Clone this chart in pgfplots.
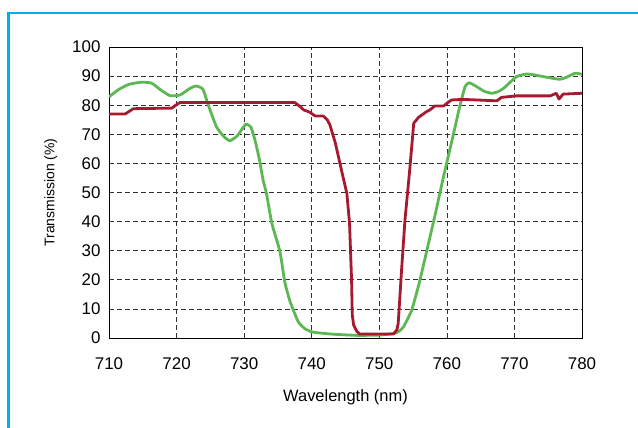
\documentclass[border=0pt]{standalone}
\usepackage{pgfplots}
\pgfplotsset{compat=1.18}
\usepackage{fontspec}
\setmainfont{Liberation Sans}
\definecolor{frameblue}{HTML}{00AEEF}
\definecolor{cgreen}{HTML}{5BB852}
\definecolor{cred}{HTML}{A6192E}
\begin{document}
\begin{tikzpicture}
\path[use as bounding box] (0,0) rectangle (638bp,428bp);
\begin{scope}
\clip (0,0) rectangle (638bp,428bp);
\draw[frameblue, line width=2.8bp] (8.8bp,-10bp) -- (8.8bp,415bp) -- (660bp,415bp);
\end{scope}
\begin{axis}[
  at={(109bp,90bp)}, anchor=south west,
  scale only axis, width=473bp, height=291bp,
  xmin=710, xmax=780, ymin=0, ymax=100,
  xtick={710,720,...,780}, ytick={0,10,...,100},
  major tick length=0pt,
  grid=major,
  grid style={black!80, line width=0.7bp, dash pattern=on 5bp off 3bp},
  axis line style={black, line width=0.8bp},
  tick label style={font=\fontsize{17}{20}\selectfont},
  xlabel style={font=\fontsize{16.5}{20}\selectfont, yshift=-13bp},
  ylabel style={font=\fontsize{14}{17}\selectfont, yshift=8bp},
  /pgf/number format/assume math mode=true,
  /pgf/number format/1000 sep={},
  xticklabel style={yshift=-16bp},
  yticklabel style={xshift=-5bp},
  xlabel={Wavelength (nm)},
  ylabel={Transmission (\%)},
]
\addplot[cgreen, line width=2.8bp, line join=round, smooth, tension=0.3] coordinates {
(710,82.9) (711.5,85.5) (713,87.2) (714.8,87.9) (716.3,87.6) (717.5,85.5) (719,83.3) (720.5,83.5) (722,85.8) (722.9,86.6) (723.9,85.5) (724.7,80) (725.9,72.6) (727,69.2) (727.9,67.8) (729,69.5) (730.2,73.4) (731,72.5) (731.6,68) (732.2,62) (732.8,54.3) (733.3,49.7) (734.1,39.4) (735.3,29.7) (736.0,19.4) (736.8,12.5) (738.0,5.6) (739,3.2) (740.2,2.0) (743.2,1.3) (746.8,0.9) (750,1.0) (752.3,1.6) (753.0,2.5) (753.6,3.9) (754.8,9.6) (755.9,18.8) (757.0,29.7) (758.2,41.7) (759.5,55.4) (761.0,70.3) (761.9,79.5) (762.7,86.4) (763.3,87.7) (764.4,86.4) (765.5,84.8) (766.6,84.1) (767.5,84.6) (768.4,85.8) (770.3,89.8) (771.8,90.7) (773,90.4) (774.3,89.8) (776.7,88.9) (777.7,89.6) (779.0,91.0) (780,90.6)
};
\addplot[cred, line width=2.8bp, line join=round] coordinates {
(710,77.0) (712.4,77.0) (713.6,78.8) (719.3,79.0) (720.0,80.2) (720.5,80.9) (737.5,80.9) (738.3,79.5) (738.8,78.4) (739.7,77.6) (740.5,76.3) (741.7,76.3) (742.3,75.0) (742.7,73.2) (743.5,67) (744.4,57.7) (745.2,49.7) (745.6,39.4) (745.9,19.9) (746.0,8) (746.2,4.5) (746.7,2.2) (747.1,1.4) (752.1,1.4) (752.6,2.8) (752.8,5.0) (753.3,23.4) (753.8,40.5) (754.5,57.7) (755.1,73.8) (755.8,75.8) (757.0,77.8) (757.5,78.4) (758.2,79.7) (759.5,79.7) (760.2,81) (760.7,81.8) (762.4,82.0) (767.4,81.5) (768.1,82.7) (770.3,83.2) (775.3,83.2) (776.2,84.1) (776.6,82.1) (777.2,83.8) (780,84.1)
};
\end{axis}
\end{tikzpicture}
\end{document}
